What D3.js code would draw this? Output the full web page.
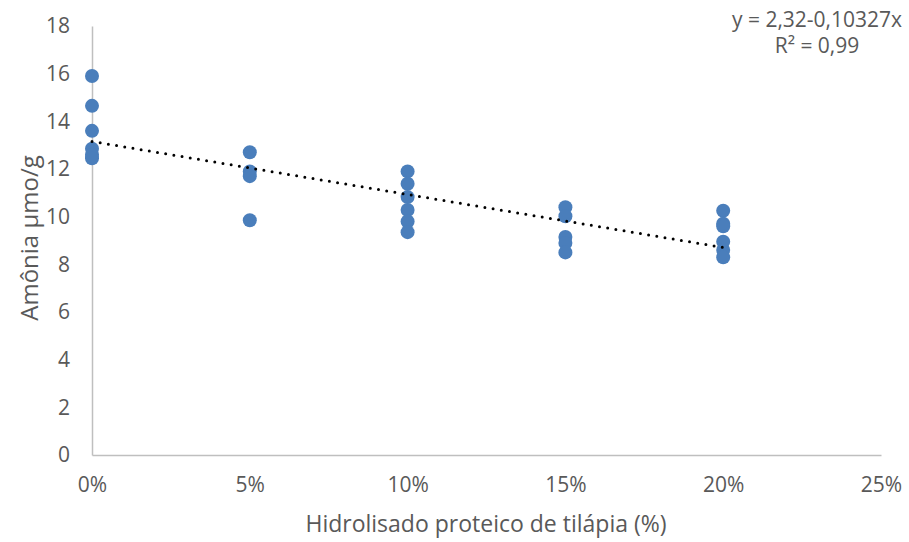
<!DOCTYPE html>
<html lang="pt">
<head>
    <meta charset="UTF-8">
    <title>Amônia</title>
    <script src="https://cdn.jsdelivr.net/npm/d3@7/dist/d3.min.js"></script>
    <style>
        body { margin: 0; background: #fff; }
        text { font-family: "Open Sans", "Liberation Sans", sans-serif; fill: #595959; }
    </style>
</head>
<body>
    <svg id="svg"></svg>
    <script>
        var WIDTH = 909;
        var HEIGHT = 542;

        // hidrolisado (%) e amônia (µmo/g)
        var doses = [0, 0, 0, 0, 0, 0,
                     5, 5, 5, 5,
                     10, 10, 10, 10, 10, 10,
                     15, 15, 15, 15, 15,
                     20, 20, 20, 20, 20, 20];
        var amonia = [15.9, 14.65, 13.6, 12.85, 12.6, 12.45,
                      12.7, 11.9, 11.7, 9.85,
                      11.9, 11.38, 10.82, 10.28, 9.8, 9.35,
                      10.4, 10.02, 9.15, 8.9, 8.5,
                      10.25, 9.7, 9.6, 8.95, 8.6, 8.3];
        var xTicks = [0, 5, 10, 15, 20, 25];
        var yTicks = [0, 2, 4, 6, 8, 10, 12, 14, 16, 18];
        var equacao = ["y = 2,32-0,10327x", "R² = 0,99"];

        var dataset = doses.map(function(d, i){ return {x: d, y: amonia[i]}; });

        var svg = d3.select("#svg")
                    .attr("width", WIDTH)
                    .attr("height", HEIGHT);

        var xScale = d3.scaleLinear()
                       .domain([0, 25])
                       .range([92, 881]);

        var yScale = d3.scaleLinear()
                       .domain([0, 18])
                       .range([455, 26]);

        // eixo y
        var yAxis = d3.axisLeft(yScale)
                      .tickValues(yTicks)
                      .tickSize(0)
                      .tickPadding(22);
        var gy = svg.append("g")
                    .attr("transform", "translate(92,0)")
                    .call(yAxis);
        gy.select(".domain").attr("stroke", "#bfbfbf").attr("stroke-width", 1.5);
        gy.selectAll("text").style("font-size", "21px").attr("fill", "#595959");

        // eixo x
        var xAxis = d3.axisBottom(xScale)
                      .tickValues(xTicks)
                      .tickSize(0)
                      .tickPadding(22)
                      .tickFormat(function(d){ return d + "%"; });
        var gx = svg.append("g")
                    .attr("transform", "translate(0,455)")
                    .call(xAxis);
        gx.select(".domain").attr("stroke", "#bfbfbf").attr("stroke-width", 1.5);
        gx.selectAll("text").style("font-size", "21px").attr("fill", "#595959");

        // pontos
        svg.selectAll("circle")
           .data(dataset)
           .enter()
           .append("circle")
           .attr("cx", function(d){ return xScale(d.x); })
           .attr("cy", function(d){ return yScale(d.y); })
           .attr("r", 7)
           .attr("fill", "#4a7ebb");

        // linha de tendência (mínimos quadrados)
        var mx = d3.mean(dataset, function(d){ return d.x; });
        var my = d3.mean(dataset, function(d){ return d.y; });
        var sxy = d3.sum(dataset, function(d){ return (d.x - mx) * (d.y - my); });
        var sxx = d3.sum(dataset, function(d){ return (d.x - mx) * (d.x - mx); });
        var b = sxy / sxx;
        var a = my - b * mx;
        var xr = d3.extent(doses);

        svg.append("line")
           .attr("x1", xScale(xr[0]))
           .attr("y1", yScale(a + b * xr[0]))
           .attr("x2", xScale(xr[1]))
           .attr("y2", yScale(a + b * xr[1]))
           .attr("stroke", "#000")
           .attr("stroke-width", 3)
           .attr("stroke-linecap", "round")
           .attr("stroke-dasharray", "0,8.3");

        // equação
        svg.selectAll(".eq")
           .data(equacao)
           .enter()
           .append("text")
           .attr("class", "eq")
           .attr("x", 817)
           .attr("y", function(d, i){ return 27 + i * 26; })
           .attr("text-anchor", "middle")
           .style("font-size", "21px")
           .text(function(d){ return d; });

        // títulos
        svg.append("text")
           .attr("x", 486)
           .attr("y", 532)
           .attr("text-anchor", "middle")
           .style("font-size", "23px")
           .text("Hidrolisado proteico de tilápia (%)");

        svg.append("text")
           .attr("transform", "translate(38,238) rotate(-90)")
           .attr("text-anchor", "middle")
           .style("font-size", "24px")
           .text("Amônia µmo/g");
    </script>
</body>
</html>
